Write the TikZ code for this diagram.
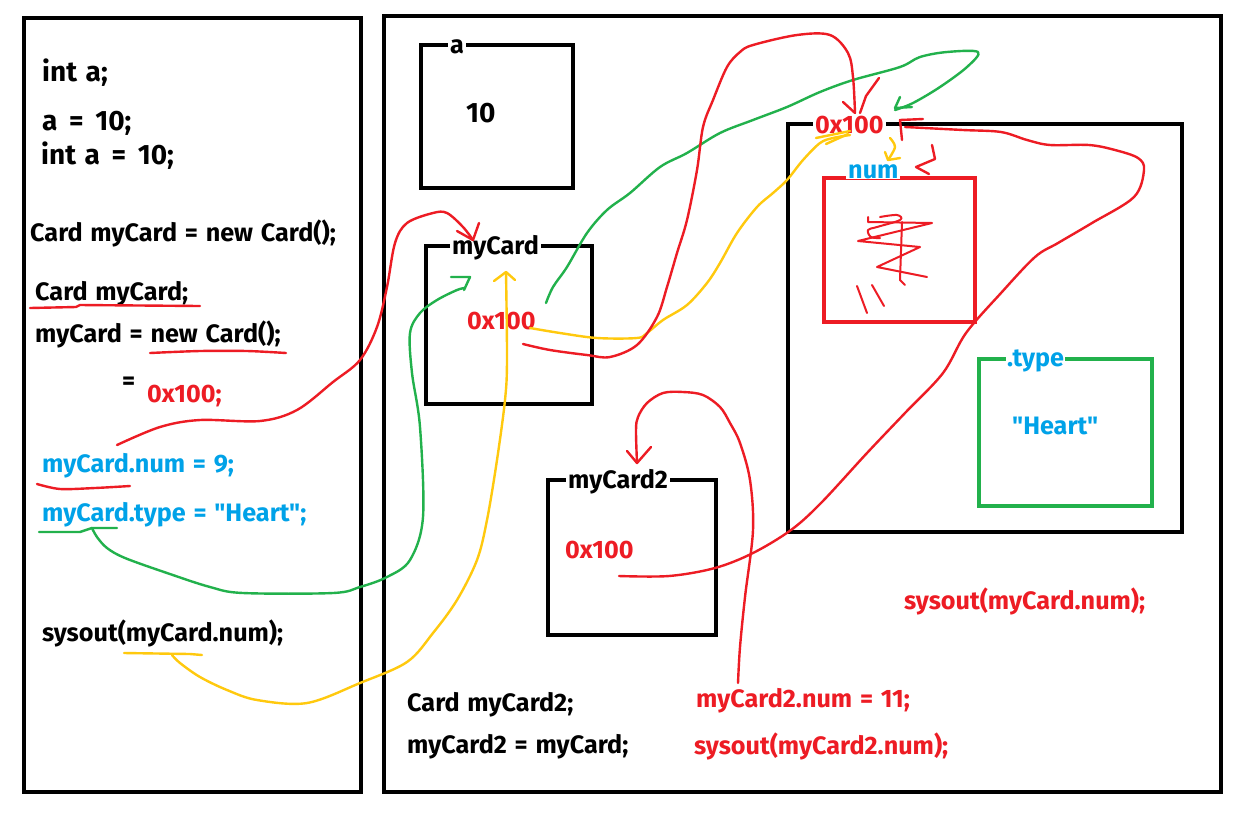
\documentclass[tikz,border=0pt]{standalone}
\usepackage{fontspec}
\newfontfamily\cf{Fira Sans}[WordSpace=1.3]
\definecolor{pred}{HTML}{ED1C24}
\definecolor{pgreen}{HTML}{22B14C}
\definecolor{pblue}{HTML}{00A2E8}
\definecolor{pyellow}{HTML}{FFC90E}
\tikzset{
  frame/.style={draw=black, line width=4.5pt},
  txt/.style={anchor=base west, inner sep=0pt, font=\cf\bfseries\fontsize{25.2}{30}\selectfont},
  big/.style={txt, font=\cf\bfseries\fontsize{28}{32}\selectfont},
  lbl/.style={anchor=base west, fill=white, inner xsep=2pt, inner ysep=1pt, font=\cf\bfseries\fontsize{25.2}{30}\selectfont},
  pen/.style={line width=2.4pt, line cap=round, line join=round},
  freehand/.style={pen, smooth, tension=0.55}
}
\begin{document}
\begin{tikzpicture}[x=1pt,y=-1pt]
\useasboundingbox (0,0) rectangle (1241,820);
\fill[white] (0,0) rectangle (1241,820);
% panels
\draw[frame] (24,18) rectangle (361,792);
\draw[frame] (384,16) rectangle (1221,792);
% boxes
\draw[frame] (421,45) rectangle (573,188);
\draw[frame] (426,246) rectangle (592,404);
\draw[frame] (788,124) rectangle (1182,532);
\draw[draw=pred, line width=4pt] (824,178) rectangle (975,322);
\draw[draw=pgreen, line width=4pt] (979,359) rectangle (1152,506);
\draw[frame] (548,480) rectangle (716,635);

% left code
\node[big] (t1) at (42,81) {int a;};
\node[big] (t2) at (42,130) {a\hspace{3pt} =\hspace{3pt} 10;};
\node[big] (t3) at (41,164) {int a\hspace{3pt} =\hspace{3pt} 10;};
\node[txt] (t4) at (30,241) {Card myCard = new Card();};
\node[txt] (t5) at (35,300) {Card myCard;};
\node[txt] (t6) at (35,342) {myCard = new Card();};
\node[txt] (t7) at (122,389) {=};
\node[txt, text=pred] (t8) at (147,402) {0x100;};
\node[txt, text=pblue] (t9) at (42,472) {myCard.num = 9;};
\node[txt, text=pblue] (t10) at (42,521) {myCard.type = "Heart";};
\node[txt] (t11) at (42,641) {sysout(myCard.num);};

% memory labels
\node[lbl] (la) at (448,53) {a};
\node[big] (v10) at (466,122) {10};
\node[lbl] (lmc) at (450,254) {myCard};
\node[txt, text=pred] (vmc) at (467,329) {0x100};
\node[lbl, text=pred] (lobj) at (813,133) {0x100};
\node[lbl, text=pblue] (lnum) at (846,178) {num};
\node[lbl, text=pblue, inner xsep=1pt] (ltype) at (1006,366) {.type};
\node[txt, text=pblue] (vheart) at (1012,434) {"Heart"};
\node[lbl] (lmc2) at (566,488) {myCard2};
\node[txt, text=pred] (vmc2) at (565,558) {0x100};

% bottom code
\node[txt] (b1) at (407,711) {Card myCard2;};
\node[txt] (b2) at (407,753) {myCard2 = myCard;};
\node[txt, text=pred] (b3) at (696,707) {myCard2.num = 11;};
\node[txt, text=pred] (b4) at (694,754) {sysout(myCard2.num);};
\node[txt, text=pred] (b5) at (904,609) {sysout(myCard.num);};

% underlines
\draw[pen, pred] (30,308) -- (76,307) -- (80,305) -- (200,306);
\draw[pen, pred] plot[smooth] coordinates {(150,353) (200,351) (247,351) (286,353)};
\draw[pen, pred] plot[smooth] coordinates {(37,484) (60,489) (95,488) (130,486)};
\draw[pen, pgreen] (39,532) -- (80,532) -- (92,528) -- (117,528);
\draw[pen, pyellow] (124,653) -- (190,654) -- (202,655);

% red: myCard.num -> myCard variable
\draw[freehand, pred] plot coordinates {(117,445) (160,427) (200,420) (260,421) (297,410) (333,382) (360,360) (377,327) (387,287) (395,243) (407,223) (433,213) (447,213) (463,227) (473,240)};
\draw[pen, pred] (457,231) -- (473,240) -- (479,223);

% green: myCard.type -> myCard variable
\draw[freehand, pgreen] plot coordinates {(92,528) (97,537) (107,548) (125,558) (167,573) (210,587) (243,593) (333,593) (360,587) (387,577) (410,560) (423,517) (420,427) (412,373) (410,333) (420,313) (437,300) (457,290) (465,288)};
\draw[pen, pgreen] (451,277) -- (470,277) -- (464,290);

% yellow: sysout -> myCard variable
\draw[freehand, pyellow] plot coordinates {(172,655) (180,663) (200,677) (227,690) (257,700) (307,703) (360,683) (407,662) (433,633) (457,600) (477,560) (487,520) (497,460) (505,400) (507,360) (506,272)};
\draw[pen, pyellow] (494,281) -- (506,272) -- (515,280);

% green: myCard -> object (loops over the top)
\draw[freehand, pgreen] plot coordinates {(546,303) (553,287) (567,267) (587,233) (607,210) (630,193) (660,167) (687,153) (720,133) (753,120) (787,107) (820,92) (853,80) (900,67) (920,57) (947,52) (978,52) (967,67) (940,87) (913,103) (895,110)};
\draw[pen, pgreen] (900,97) -- (895,108) -- (912,107);

% yellow: 0x100 in myCard -> object address
\draw[freehand, pyellow] plot coordinates {(530,328) (560,333) (597,338) (637,338) (647,333) (663,320) (687,305) (707,283) (720,263) (737,233) (757,207) (773,193) (787,180) (803,160) (820,143) (833,138) (850,135)};
\draw[pen, pyellow] (816,138) -- (850,131);
\draw[pen, pyellow] (826,144) -- (848,134);
% yellow small arrow to num
\draw[freehand, pyellow] plot coordinates {(890,138) (895,147) (888,160)};
\draw[pen, pyellow] (885,152) -- (888,160) -- (900,158);

% red: myCard -> object address from above
\draw[freehand, pred] plot coordinates {(523,344) (550,350) (587,355) (610,357) (637,345) (657,317) (667,287) (677,253) (687,220) (697,170) (703,127) (713,100) (727,67) (740,52) (753,45) (797,35) (830,35) (848,53) (853,77) (855,113)};
\draw[pen, pred] (843,102) -- (855,113);
\draw[pen, pred] (879,78) -- (866,96) -- (860,113);

% red: myCard2 -> object (around right side)
\draw[freehand, pred] plot coordinates {(619,576) (669,576) (715,568) (753,553) (791,530) (821,503) (867,453) (905,413) (943,373) (966,333) (1001,293) (1035,257) (1058,243) (1092,223) (1134,197) (1144,170) (1138,158) (1115,150) (1089,145) (1050,145) (1027,140) (1001,132) (963,130) (905,127)};
\draw[pen, pred] (923,119) -- (900,120) -- (902,140);
\draw[pen, pred] (932,145) -- (935,159) -- (916,167) -- (929,174);

% red scribble in num box
\draw[pen, pred, line width=2pt] plot[smooth, tension=0.6] coordinates {(880,217) (897,215) (900,220) (877,227) (868,230) (871,237) (880,238)};
\draw[pen, pred, line width=2pt] (868,217) -- (868,222) -- (932,223) -- (858,241) -- (920,247) -- (877,267) -- (927,277);
\draw[pen, pred, line width=2pt] (902,222) -- (900,280) -- (905,285);
\draw[pen, pred, line width=2pt] (857,286) -- (867,313);
\draw[pen, pred, line width=2pt] (872,285) -- (884,306);

% red: myCard2.num -> myCard2
\draw[freehand, pred] plot coordinates {(738,683) (740,647) (745,597) (753,530) (750,480) (740,443) (730,423) (720,407) (703,395) (683,392) (663,393) (647,403) (638,417) (636,430) (637,463)};
\draw[pen, pred] (627,451) -- (637,463) -- (651,447);
\end{tikzpicture}
\end{document}
